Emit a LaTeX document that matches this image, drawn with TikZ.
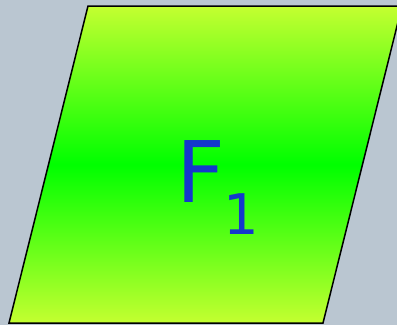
\documentclass[tikz,border=0pt]{standalone}
\usepackage{fontspec}
\setmainfont{DejaVu Sans}
\definecolor{bgc}{RGB}{186,198,209}
\definecolor{edgeyel}{RGB}{196,255,48}
\definecolor{midgrn}{RGB}{0,255,0}
\definecolor{txtblue}{RGB}{20,56,204}
\pgfdeclareverticalshading{paragrad}{100bp}{color(0bp)=(edgeyel); color(25bp)=(edgeyel); color(50bp)=(midgrn); color(75bp)=(edgeyel); color(100bp)=(edgeyel)}
\begin{document}
\begin{tikzpicture}[x=1pt,y=1pt,
  parashape/.style={draw=black, line width=1.5pt, line join=miter, shading=paragrad},
  lbl/.style={text=txtblue, inner sep=0pt, anchor=base west}]
\useasboundingbox (0,0) rectangle (397,325);
\fill[bgc] (0,0) rectangle (397,325);
\begin{scope}
\clip (0,0) rectangle (397,325);
\path[parashape] (88,319) -- (402,319) -- (323,2) -- (9,2) -- cycle;
\end{scope}
\node[lbl] (f) at (176,123) {\fontsize{85}{85}\selectfont F\kern-2pt\raisebox{-32pt}{\fontsize{56}{56}\selectfont 1}};
\end{tikzpicture}
\end{document}
